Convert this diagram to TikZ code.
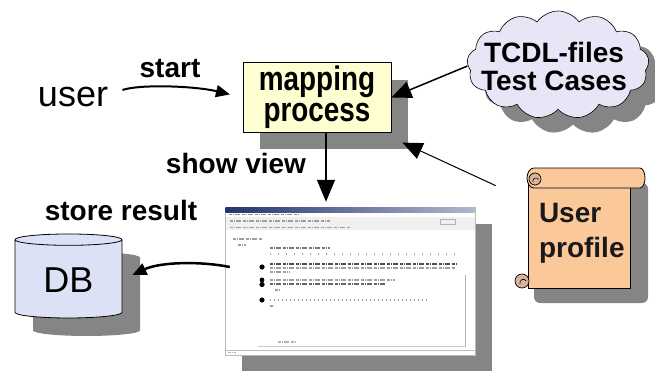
\documentclass[tikz,border=0pt]{standalone}
\usepackage{fontspec}
\setmainfont{Liberation Sans}
\newfontfamily\narrowfont{Liberation Sans}[FakeStretch=0.82]
\usetikzlibrary{shapes.geometric, shapes.symbols, arrows.meta, positioning, shadows}

\definecolor{mapfill}{HTML}{FFFFD2}
\definecolor{shadowgray}{HTML}{858585}
\definecolor{cloudfill}{HTML}{E6E6F7}
\definecolor{dbfill}{HTML}{DDE1F5}
\definecolor{scrollfill}{HTML}{FAC899}
\definecolor{curlfill}{HTML}{D9B49A}
\definecolor{titleblue}{HTML}{22346E}

\begin{document}
\begin{tikzpicture}[x=1pt, y=1pt,
    lbl/.style={font=\fontsize{28}{28}\selectfont\bfseries, inner sep=0pt},
    plain/.style={font=\fontsize{36}{36}\selectfont, inner sep=1pt},
    hardshadow/.style={general shadow={fill=shadowgray, shadow xshift=#1, shadow yshift=-#1}},
    process/.style={rectangle, draw, line width=0.8pt, fill=mapfill, minimum width=148pt, minimum height=67pt,
        align=center, font=\narrowfont\bfseries\fontsize{34}{31}\selectfont},
    cloudbox/.style={cloud, cloud puffs=13, cloud puff arc=110, aspect=1.8, draw, line width=0.6pt,
        fill=cloudfill, minimum width=182pt, minimum height=108pt},
    database/.style={cylinder, shape border rotate=90, aspect=0.2, draw, line width=0.8pt, fill=dbfill,
        minimum width=107pt, minimum height=84pt, font=\fontsize{36}{36}\selectfont},
    scrollbody/.style={rectangle, draw, line width=0.8pt, fill=scrollfill, minimum width=102pt, minimum height=110pt,
        align=left, text width=80pt, text=black!90, font=\fontsize{28}{35}\selectfont\bfseries},
    window/.style={rectangle, draw=gray!55, fill=white, minimum width=250pt, minimum height=148pt},
    scribble/.style={line width=1.3pt, draw=gray!75, dash pattern=on 3pt off 1pt on 1pt off 1pt on 5pt off 2pt},
    arrow/.style={-{Triangle[length=20pt,width=17pt]}, line width=1.3pt},
    curvearrow/.style={-{Triangle[length=14pt,width=12pt]}, line width=2pt}
]
    \useasboundingbox (0,0) rectangle (655,370);

    % labels
    \node[plain, anchor=base] (user) at (73,263) {user};
    \node[lbl, anchor=base] (start) at (170,292) {start};
    \node[lbl, anchor=base] (show) at (236,197) {show view};
    \node[lbl, anchor=base] (store) at (121,150) {store result};

    % mapping process
    \node[process, hardshadow=17pt] (map) at (317,272.5) {mapping\\process};

    % test case cloud
    \node[cloudbox, hardshadow=15pt] (tcdl) at (558,305) {};
    \node[lbl, align=center] (tcdltext) at (554,304) {TCDL-files\\Test Cases};

    % database
    \node[database, hardshadow=18pt] (db) at (68.5,90) {DB};

    % user profile scroll
    \fill[shadowgray, rounded corners=6pt] (534,67) rectangle (648,187);
    \node[scrollbody] (prof) at (579,137) {User\\profile};
    \draw[line width=0.8pt, fill=scrollfill] (534,182) -- (640,182)
        arc[start angle=-90, end angle=90, x radius=5, y radius=10] -- (534,202)
        arc[start angle=90, end angle=270, x radius=7, y radius=10] -- cycle;
    \draw[line width=0.7pt, fill=curlfill] (535,191) circle[radius=6];
    \draw[line width=0.6pt] (533,188) arc[start angle=200, end angle=30, radius=3];
    \draw[line width=0.7pt, fill=curlfill] (522,89) circle[radius=7];
    \draw[line width=0.6pt] (520,86) arc[start angle=200, end angle=30, radius=3.5];

    % browser window
    \node[window, hardshadow=17pt] (shot) at (350,89) {};
    \shade[left color=titleblue, right color=titleblue!35] (225.5,158) rectangle (474.5,162.5);
    \fill[gray!12] (225.5,140) rectangle (474.5,153);
    \draw[scribble, draw=gray!90] (229,155.5) -- (300,155.5);
    \draw[scribble] (230,149) -- (330,149);
    \draw[scribble] (230,142.5) -- (350,142.5);
    \draw[gray!60] (440,146) rectangle (455,151);
    \draw[scribble] (233,131) -- (262,131);
    \draw[scribble] (238,125) -- (246,125);
    \draw[scribble, draw=gray!95!black, line width=1.6pt] (270,122) -- (330,122);
    \draw[scribble, dash pattern=on 1pt off 7pt] (270,116) -- (455,116);
    \fill (262,103) circle[radius=2.6];
    \draw[scribble, draw=black!70] (270,106) -- (458,106);
    \draw[scribble] (270,102) -- (456,102);
    \draw[scribble] (270,98) -- (290,98);
    \fill (262,90) circle[radius=2.4];
    \fill (262,85.5) circle[radius=2.6];
    \draw[scribble] (270,90) -- (395,90);
    \draw[scribble, draw=black!60] (270,86) -- (385,86);
    \draw[scribble] (275,80) -- (280,80);
    \fill (262,70) circle[radius=2.6];
    \draw[scribble, dash pattern=on 1pt off 3pt] (270,70) -- (430,70);
    \draw[scribble] (270,64) -- (274,64);
    \draw[gray!60] (465.5,95) -- (465.5,24);
    \draw[gray!40] (258,24) -- (465.5,24);
    \draw[scribble, draw=gray!60] (278,28) -- (296,28);
    \draw[gray!50] (225.5,20) -- (474.5,20);
    \draw[scribble, draw=gray!60] (228,17.5) -- (236,17.5);

    % connectors
    \draw[curvearrow, shorten <=14pt, shorten >=13pt] ([yshift=3pt]user.east)
        .. controls (140,286) and (195,284) .. (map.west);
    \draw[arrow, line width=1.5pt] ([yshift=-1pt]tcdl.west) -- (map.east);
    \draw[arrow, line width=1pt] ([xshift=-32pt,yshift=-8pt]prof.north west)
        -- ([xshift=11pt,yshift=-10pt]map.south east);
    \draw[arrow, -{Triangle[length=22pt,width=18pt]}, line width=1.2pt] ([xshift=9pt]map.south)
        -- ([xshift=9pt,yshift=5pt]map.south |- shot.north);
    \draw[curvearrow, line width=2.5pt] ([xshift=5pt,yshift=14pt]shot.west)
        .. controls (200,109) and (160,108) .. ([xshift=10pt,yshift=5pt]db.east);
\end{tikzpicture}
\end{document}
